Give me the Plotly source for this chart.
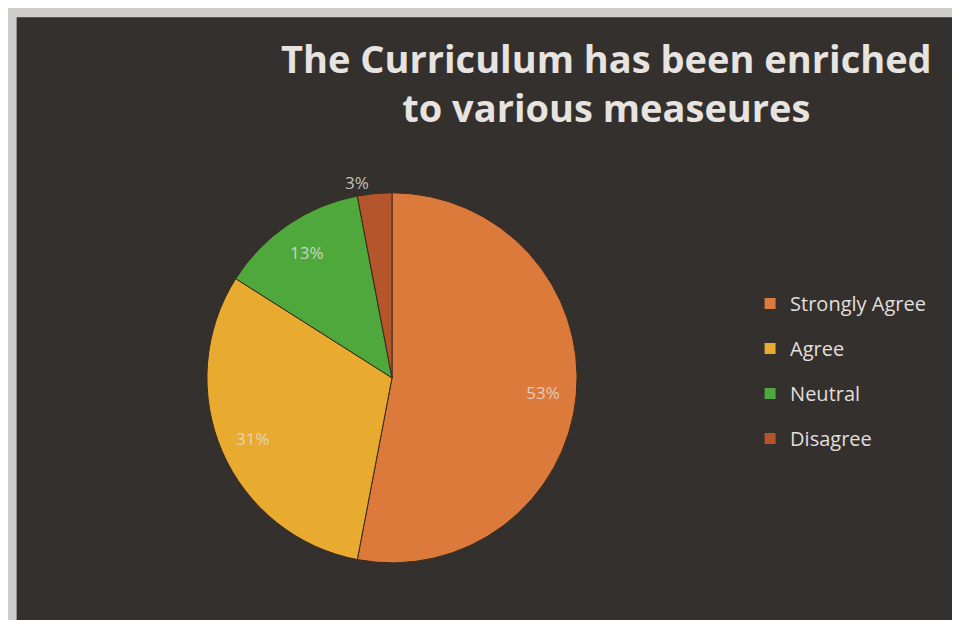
import plotly.graph_objects as go

categories = ["Strongly Agree", "Agree", "Neutral", "Disagree"]
values = [53, 31, 13, 3]
colors = ["#dc7a3c", "#e9aa30", "#4ea83c", "#b4552c"]
title_lines = ["The Curriculum has been enriched", "to various measeures"]

dom = dict(x=[0.2, 0.6], y=[0.105, 0.702])
label_color = "rgba(225,220,215,0.85)"

fig = go.Figure()
# filled pie
fig.add_trace(go.Pie(
    labels=categories, values=values, sort=False, direction="clockwise", rotation=0,
    marker=dict(colors=colors, line=dict(color="#3a2a20", width=1)),
    textinfo="none", domain=dom, showlegend=False, hoverinfo="label+percent",
))
# percentage labels, placed in the outer ring
fig.add_trace(go.Pie(
    labels=categories, values=values, sort=False, direction="clockwise", rotation=0,
    hole=0.64,
    marker=dict(colors=["rgba(0,0,0,0)"] * len(values), line=dict(width=0)),
    texttemplate="%{percent:.0%}",
    textposition=["inside", "inside", "inside", "outside"],
    insidetextorientation="horizontal",
    textfont=dict(family="Open Sans", size=17, color=label_color),
    outsidetextfont=dict(family="Open Sans", size=17, color=label_color),
    domain=dom, showlegend=False, hoverinfo="skip",
))
# legend entries
for name, col in zip(categories, colors):
    fig.add_trace(go.Scatter(
        x=[None], y=[None], mode="markers", name=name, legendgroup=name,
        marker=dict(symbol="square", size=11, color=col),
    ))

fig.update_layout(
    width=960, height=620,
    margin=dict(l=0, r=0, t=0, b=0),
    paper_bgcolor="#cfcdca",
    plot_bgcolor="rgba(0,0,0,0)",
    xaxis=dict(visible=False), yaxis=dict(visible=False),
    shapes=[dict(type="rect", xref="paper", yref="paper", x0=0.009, x1=0.99, y0=0.0, y1=0.985,
                 fillcolor="#34302d", line=dict(width=0), layer="below")],
    annotations=[dict(
        text="<b>" + "<br>".join(title_lines) + "</b>",
        xref="paper", yref="paper", x=0.623, y=1 - 22 / 620, xanchor="center", yanchor="top",
        showarrow=False, align="center",
        font=dict(family="Open Sans", size=38, color="#e6e3e0"),
    )],
    showlegend=True,
    legend=dict(
        x=0.773, y=1 - 276 / 620, xanchor="left", yanchor="top",
        font=dict(family="Open Sans", size=20, color="#e2dfdc"),
        bgcolor="rgba(0,0,0,0)", itemwidth=30, tracegroupgap=16,
    ),
)

fig.write_html("out.html")
